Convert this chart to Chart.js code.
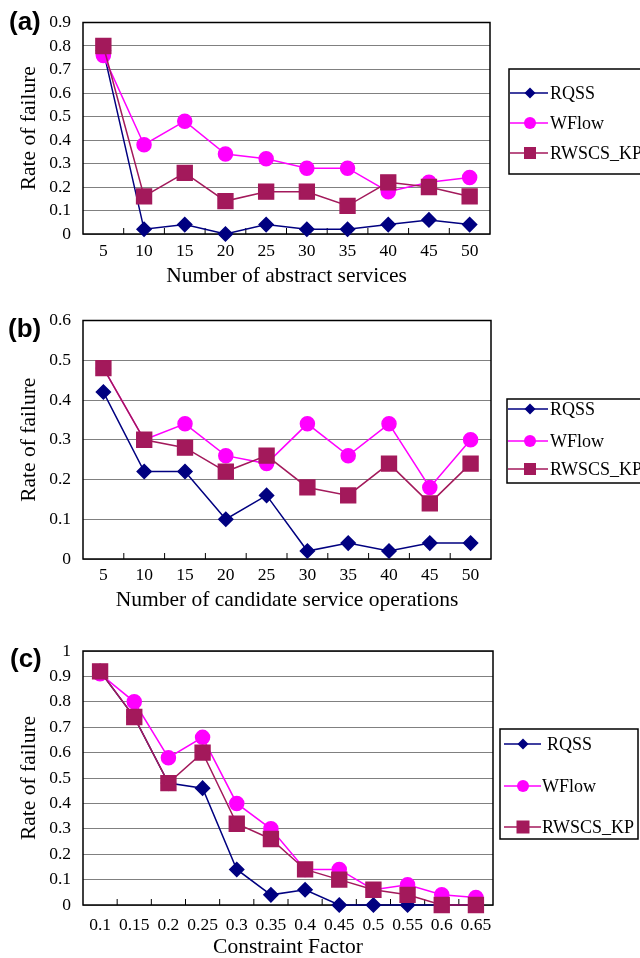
<!DOCTYPE html>
<html>
<head>
<meta charset="utf-8">
<script src="https://cdn.jsdelivr.net/npm/chart.js@4.4.1/dist/chart.umd.min.js"></script>
<style>
body { margin: 0; background: #fff; width: 640px; height: 958px; position: relative; overflow: hidden; }
canvas { position: absolute; left: 0; }
</style>
</head>
<body>
<canvas id="chartA" width="640" height="292" style="top:0px"></canvas>
<canvas id="chartB" width="640" height="316" style="top:298px"></canvas>
<canvas id="chartC" width="640" height="332" style="top:628px"></canvas>
<script>
const seriesNames = ['RQSS', 'WFlow', 'RWSCS_KP'];

// (a) number of abstract services
const abstractServices = ['5', '10', '15', '20', '25', '30', '35', '40', '45', '50'];
const rqssA  = [0.78, 0.02, 0.04, 0.00, 0.04, 0.02, 0.02, 0.04, 0.06, 0.04];
const wflowA = [0.76, 0.38, 0.48, 0.34, 0.32, 0.28, 0.28, 0.18, 0.22, 0.24];
const rwscsA = [0.80, 0.16, 0.26, 0.14, 0.18, 0.18, 0.12, 0.22, 0.20, 0.16];

// (b) number of candidate service operations
const candidateOps = ['5', '10', '15', '20', '25', '30', '35', '40', '45', '50'];
const rqssB  = [0.42, 0.22, 0.22, 0.10, 0.16, 0.02, 0.04, 0.02, 0.04, 0.04];
const wflowB = [0.48, 0.30, 0.34, 0.26, 0.24, 0.34, 0.26, 0.34, 0.18, 0.30];
const rwscsB = [0.48, 0.30, 0.28, 0.22, 0.26, 0.18, 0.16, 0.24, 0.14, 0.24];

// (c) constraint factor
const constraintFactor = ['0.1', '0.15', '0.2', '0.25', '0.3', '0.35', '0.4', '0.45', '0.5', '0.55', '0.6', '0.65'];
const rqssC  = [0.92, 0.74, 0.48, 0.46, 0.14, 0.04, 0.06, 0.00, 0.00, 0.00, 0.00, 0.00];
const wflowC = [0.91, 0.80, 0.58, 0.66, 0.40, 0.30, 0.14, 0.14, 0.06, 0.08, 0.04, 0.03];
const rwscsC = [0.92, 0.74, 0.48, 0.60, 0.32, 0.26, 0.14, 0.10, 0.06, 0.04, 0.00, 0.00];

const serif = '"Liberation Serif", "DejaVu Serif", serif';

function drawMarker(ctx, style, x, y, r, color) {
    ctx.fillStyle = color;
    ctx.beginPath();
    if (style === 'rectRot') {
        ctx.moveTo(x, y - r); ctx.lineTo(x + r, y); ctx.lineTo(x, y + r); ctx.lineTo(x - r, y);
        ctx.closePath();
    } else if (style === 'rect') {
        ctx.rect(x - r, y - r, 2 * r, 2 * r);
    } else {
        ctx.arc(x, y, r, 0, Math.PI * 2);
    }
    ctx.fill();
}

// frame, inner tick marks, panel letter and boxed legend
const panelDeco = {
    id: 'panelDeco',
    beforeDatasetsDraw(chart, args, opts) {
        const ctx = chart.ctx, a = chart.chartArea, x = chart.scales.x;
        ctx.save();
        ctx.strokeStyle = '#000';
        ctx.lineWidth = 1;
        const n = chart.data.labels.length;
        for (let i = 1; i < n; i++) {
            const px = (x.getPixelForValue(i - 1) + x.getPixelForValue(i)) / 2;
            ctx.beginPath();
            ctx.moveTo(px, a.bottom);
            ctx.lineTo(px, a.bottom - 6);
            ctx.stroke();
        }
        ctx.lineWidth = 1.5;
        ctx.strokeRect(a.left, a.top, a.right - a.left, a.bottom - a.top);
        ctx.restore();
    },
    afterDraw(chart, args, opts) {
        const ctx = chart.ctx;
        ctx.save();
        ctx.fillStyle = '#000';
        ctx.font = 'bold 26px "Liberation Sans", Arial, sans-serif';
        ctx.textBaseline = 'alphabetic';
        ctx.fillText(opts.label, opts.labelX, opts.labelY);

        const lg = opts.legend;
        ctx.strokeStyle = '#000';
        ctx.lineWidth = 1.5;
        ctx.strokeRect(lg.x, lg.y, lg.w, lg.h);
        chart.data.datasets.forEach((ds, i) => {
            const y = lg.rows[i];
            ctx.strokeStyle = ds.borderColor;
            ctx.lineWidth = 1.5;
            ctx.beginPath();
            ctx.moveTo(lg.x0, y);
            ctx.lineTo(lg.x1, y);
            ctx.stroke();
            drawMarker(ctx, ds.pointStyle, lg.mx, y, lg.marks[i], ds.backgroundColor);
            ctx.fillStyle = '#000';
            ctx.font = '18px ' + serif;
            ctx.textBaseline = 'middle';
            ctx.fillText(ds.label, lg.tx[i], y + 1);
        });
        ctx.restore();
    }
};

function makeChart(id, labels, rqss, wflow, rwscs, yMax, xTitle, geo, deco) {
    return new Chart(document.getElementById(id), {
        type: 'line',
        data: {
            labels: labels,
            datasets: [{
                label: seriesNames[0],
                data: rqss,
                borderColor: '#000080',
                backgroundColor: '#000080',
                pointStyle: 'rectRot',
                pointRadius: 7,
                borderWidth: 1.5,
                order: 3
            }, {
                label: seriesNames[1],
                data: wflow,
                borderColor: '#FF00FF',
                backgroundColor: '#FF00FF',
                pointStyle: 'circle',
                pointRadius: 7,
                borderWidth: 1.5,
                order: 2
            }, {
                label: seriesNames[2],
                data: rwscs,
                borderColor: '#A3195B',
                backgroundColor: '#A3195B',
                pointStyle: 'rect',
                pointRadius: 10.5,
                borderWidth: 1.5,
                order: 1
            }]
        },
        options: {
            responsive: false,
            animation: false,
            devicePixelRatio: 1,
            clip: false,
            layout: {
                padding: { top: geo.top, right: geo.right, bottom: geo.bottom, left: 0 }
            },
            plugins: {
                legend: { display: false },
                tooltip: { enabled: false },
                panelDeco: deco
            },
            elements: {
                line: { tension: 0 },
                point: { borderWidth: 1, hoverRadius: 0 }
            },
            scales: {
                x: {
                    type: 'category',
                    offset: true,
                    afterFit: (s) => { s.height = geo.xHeight; },
                    grid: { display: false, drawTicks: false },
                    border: { display: false },
                    ticks: {
                        color: '#000',
                        padding: geo.xPad,
                        maxRotation: 0,
                        autoSkip: false,
                        font: { family: serif, size: 17.5 }
                    },
                    title: {
                        display: true,
                        text: xTitle,
                        color: '#000',
                        padding: 0,
                        font: { family: serif, size: 21.5 }
                    }
                },
                y: {
                    min: 0,
                    max: yMax,
                    afterFit: (s) => { s.width = 83; },
                    grid: { color: '#808080', lineWidth: 1, drawTicks: false },
                    border: { display: false },
                    ticks: {
                        stepSize: 0.1,
                        autoSkip: false,
                        color: '#000',
                        padding: 12,
                        font: { family: serif, size: 17.5 },
                        callback: (v) => String(Number(v.toFixed(1)))
                    },
                    title: {
                        display: true,
                        text: 'Rate of failure',
                        color: '#000',
                        padding: { top: 16, bottom: 0 },
                        font: { family: serif, size: 21.5 }
                    }
                }
            }
        },
        plugins: [panelDeco]
    });
}

makeChart('chartA', abstractServices, rqssA, wflowA, rwscsA, 0.9,
    'Number of abstract services',
    { top: 13, right: 150, bottom: 3.1, xHeight: 54.9, xPad: 6.5 },
    { label: '(a)', labelX: 9, labelY: 30,
      legend: { x: 509, y: 69, w: 140, h: 105, rows: [93, 123, 153], x0: 510, x1: 548, mx: 530,
                marks: [5.5, 6, 6], tx: [550, 550, 550] } });

makeChart('chartB', candidateOps, rqssB, wflowB, rwscsB, 0.6,
    'Number of candidate service operations',
    { top: 21, right: 149, bottom: 1.1, xHeight: 53.9, xPad: 5.5 },
    { label: '(b)', labelX: 8, labelY: 39,
      legend: { x: 507, y: 101, w: 140, h: 84, rows: [111, 143, 171], x0: 508, x1: 548, mx: 530,
                marks: [5.5, 6, 6], tx: [550, 550, 550] } });

makeChart('chartC', constraintFactor, rqssC, wflowC, rwscsC, 1,
    'Constraint Factor',
    { top: 23, right: 147, bottom: 0.1, xHeight: 54.9, xPad: 9.5 },
    { label: '(c)', labelX: 10, labelY: 39,
      legend: { x: 500, y: 101, w: 138, h: 110, rows: [116, 158, 199], x0: 504, x1: 541, mx: 523,
                marks: [5.5, 6, 6.5], tx: [547, 542, 542] } });
</script>
</body>
</html>
